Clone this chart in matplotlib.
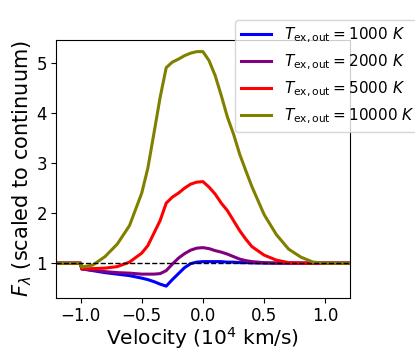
import matplotlib
matplotlib.use('Agg')
import matplotlib.pyplot as plt

velocity = [-1.2, -1.0, -0.99, -0.9, -0.8, -0.7, -0.6, -0.5, -0.45, -0.4, -0.35, -0.3,
            -0.25, -0.2, -0.15, -0.1, -0.05, 0.0, 0.05, 0.1, 0.15, 0.2, 0.25, 0.3,
            0.35, 0.4, 0.5, 0.6, 0.7, 0.8, 0.9, 1.0, 1.2]

flux_1000 = [1.0, 1.0, 0.885, 0.85, 0.81, 0.78, 0.75, 0.70, 0.67, 0.63, 0.58, 0.54,
             0.67, 0.79, 0.91, 0.99, 1.02, 1.03, 1.03, 1.03, 1.03, 1.02, 1.02, 1.01,
             1.01, 1.005, 1.0, 1.0, 1.0, 1.0, 1.0, 1.0, 1.0]
flux_2000 = [1.0, 1.0, 0.885, 0.86, 0.83, 0.81, 0.80, 0.78, 0.78, 0.78, 0.79, 0.85,
             0.98, 1.10, 1.19, 1.26, 1.30, 1.31, 1.29, 1.25, 1.22, 1.18, 1.13, 1.08,
             1.05, 1.03, 1.01, 1.0, 1.0, 1.0, 1.0, 1.0, 1.0]
flux_5000 = [1.0, 1.0, 0.885, 0.89, 0.90, 0.93, 1.02, 1.20, 1.35, 1.60, 1.85, 2.20,
             2.32, 2.40, 2.50, 2.58, 2.62, 2.63, 2.52, 2.38, 2.20, 2.05, 1.85, 1.65,
             1.48, 1.33, 1.16, 1.06, 1.01, 1.0, 1.0, 1.0, 1.0]
flux_10000 = [1.0, 1.0, 0.92, 0.96, 1.13, 1.38, 1.75, 2.40, 2.90, 3.60, 4.31, 4.91,
              5.02, 5.08, 5.15, 5.20, 5.23, 5.23, 5.05, 4.75, 4.35, 3.92, 3.58, 3.18,
              2.85, 2.53, 1.97, 1.57, 1.28, 1.12, 1.02, 1.0, 1.0]

temps = [1000, 2000, 5000, 10000]
colors = ['blue', 'purple', 'red', 'olive']

fig = plt.figure(figsize=(4.15, 3.5), dpi=100)
ax = fig.add_axes([0.135, 0.149, 0.708, 0.737])

for t, f, c in zip(temps, [flux_1000, flux_2000, flux_5000, flux_10000], colors):
    ax.plot(velocity, f, color=c, lw=2.2, label=r'$T_{\rm ex,out}=%d\ K$' % t)
ax.axhline(1, color='k', ls='--', lw=1)

ax.set_xlim(-1.2, 1.2)
ax.set_xticks([-1.0, -0.5, 0.0, 0.5, 1.0])
ax.set_yticks([1, 2, 3, 4, 5])
ax.tick_params(labelsize=12, pad=3)
ax.set_xlabel(r'Velocity ($10^4$ km/s)', fontsize=14.5, labelpad=0)
ax.set_ylabel(r'$F_\lambda$ (scaled to continuum)', fontsize=15, labelpad=2)

ax.legend(loc='upper left', bbox_to_anchor=(227 / 415, 1 - 12 / 350),
          bbox_transform=fig.transFigure, fontsize=11)

fig.savefig('out.png', dpi=100)
